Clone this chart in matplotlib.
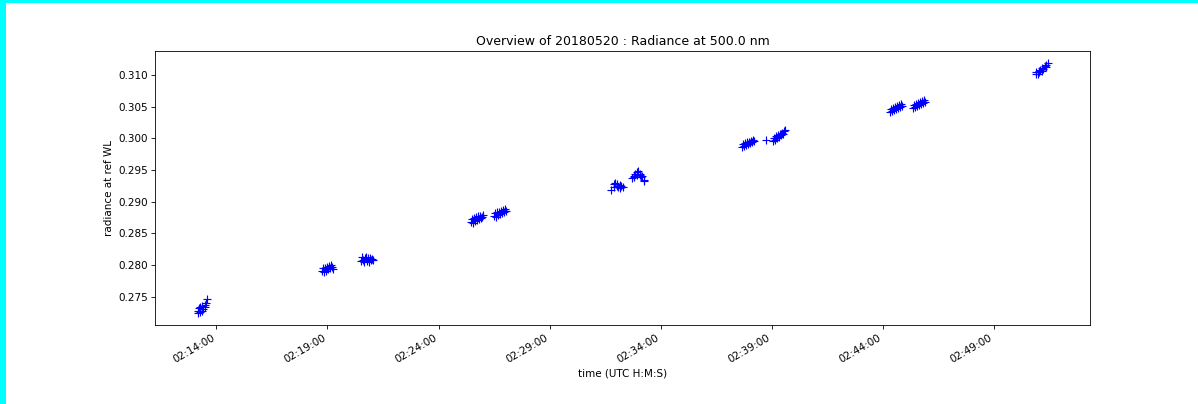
import pandas as pd
import matplotlib.pyplot as plt
import matplotlib.dates as mdates
from matplotlib.patches import Rectangle

day = '2018-05-20'

# Measurement times (UTC) and radiance at the reference wavelength, one row per pass
times = [
    '02:13:09', '02:13:11', '02:13:14', '02:13:17', '02:13:17', '02:13:20', '02:13:22', '02:13:25', '02:13:28', '02:13:30', '02:13:33', '02:13:36',
    '02:18:46', '02:18:48', '02:18:51', '02:18:54', '02:18:56', '02:18:59', '02:19:02', '02:19:04', '02:19:07', '02:19:10', '02:19:13', '02:19:15',
    '02:20:31', '02:20:34', '02:20:36', '02:20:39', '02:20:42', '02:20:44', '02:20:47', '02:20:50', '02:20:52', '02:20:55', '02:20:58', '02:21:00', '02:21:03',
    '02:25:27', '02:25:30', '02:25:33', '02:25:35', '02:25:38', '02:25:41', '02:25:43', '02:25:46', '02:25:49', '02:25:51', '02:25:54', '02:25:57', '02:26:00',
    '02:26:29', '02:26:32', '02:26:35', '02:26:37', '02:26:40', '02:26:43', '02:26:45', '02:26:48', '02:26:51', '02:26:53', '02:26:56', '02:26:59', '02:27:02',
    '02:31:47', '02:31:53', '02:31:55', '02:31:58', '02:32:01', '02:32:03', '02:32:06', '02:32:09', '02:32:11', '02:32:14', '02:32:17',
    '02:32:44', '02:32:47', '02:32:49', '02:32:52', '02:32:55', '02:32:57', '02:33:00', '02:33:03', '02:33:05', '02:33:08', '02:33:11', '02:33:14', '02:33:16',
    '02:37:40', '02:37:43', '02:37:46', '02:37:48', '02:37:51', '02:37:54', '02:37:56', '02:37:59', '02:38:02', '02:38:04', '02:38:07', '02:38:10', '02:38:13',
    '02:38:45',
    '02:39:04', '02:39:07', '02:39:09', '02:39:12', '02:39:15', '02:39:17', '02:39:20', '02:39:23', '02:39:25', '02:39:28', '02:39:31', '02:39:33', '02:39:36',
    '02:44:19', '02:44:22', '02:44:25', '02:44:27', '02:44:30', '02:44:33', '02:44:35', '02:44:38', '02:44:41', '02:44:43', '02:44:46', '02:44:49', '02:44:52',
    '02:45:21', '02:45:24', '02:45:27', '02:45:29', '02:45:32', '02:45:35', '02:45:37', '02:45:40', '02:45:43', '02:45:45', '02:45:48', '02:45:51', '02:45:53',
    '02:50:53', '02:50:55', '02:50:58', '02:51:01', '02:51:03', '02:51:06', '02:51:09', '02:51:11', '02:51:14', '02:51:17', '02:51:20', '02:51:22', '02:51:25',
]

radiance = [
    0.27280, 0.27250, 0.27320, 0.27265, 0.27330, 0.27280, 0.27350, 0.27300, 0.27370, 0.27330, 0.27400, 0.27469,
    0.27908, 0.27950, 0.27890, 0.27960, 0.27910, 0.27975, 0.27930, 0.27990, 0.27950, 0.28005, 0.27970, 0.27940,
    0.28070, 0.28120, 0.28085, 0.28050, 0.28110, 0.28125, 0.28070, 0.28105, 0.28055, 0.28115, 0.28075, 0.28100, 0.28085,
    0.28678, 0.28720, 0.28670, 0.28740, 0.28695, 0.28755, 0.28710, 0.28770, 0.28730, 0.28780, 0.28745, 0.28765, 0.28795,
    0.28772, 0.28815, 0.28765, 0.28830, 0.28790, 0.28845, 0.28805, 0.28860, 0.28820, 0.28875, 0.28840, 0.28890, 0.28860,
    0.29180, 0.29230, 0.29274, 0.29300, 0.29250, 0.29285, 0.29235, 0.29265, 0.29215, 0.29250, 0.29225,
    0.29370, 0.29410, 0.29395, 0.29440, 0.29425, 0.29470, 0.29478, 0.29420, 0.29440, 0.29385, 0.29405, 0.29345, 0.29325,
    0.29871, 0.29905, 0.29880, 0.29920, 0.29895, 0.29935, 0.29905, 0.29950, 0.29920, 0.29965, 0.29935, 0.29980, 0.29955,
    0.29975,
    0.29965, 0.30010, 0.29975, 0.30030, 0.30005, 0.30045, 0.30025, 0.30070, 0.30050, 0.30090, 0.30075, 0.30115, 0.30135,
    0.30420, 0.30460, 0.30430, 0.30475, 0.30445, 0.30490, 0.30460, 0.30505, 0.30480, 0.30520, 0.30495, 0.30535, 0.30515,
    0.30483, 0.30525, 0.30495, 0.30540, 0.30510, 0.30555, 0.30525, 0.30570, 0.30545, 0.30585, 0.30560, 0.30600, 0.30580,
    0.31010, 0.31050, 0.31020, 0.31065, 0.31040, 0.31085, 0.31070, 0.31110, 0.31095, 0.31135, 0.31120, 0.31160, 0.31182,
]

t = pd.to_datetime([day + ' ' + s for s in times])

fig, ax = plt.subplots(figsize=(1198 / 75, 404 / 75), dpi=75)
ax.plot(t, radiance, linestyle='none', marker='+', color='b', markersize=7, markeredgewidth=1.1)

ax.set_title('Overview of 20180520 : Radiance at 500.0 nm')
ax.set_xlabel('time (UTC H:M:S)')
ax.set_ylabel('radiance at ref WL')
ax.xaxis.set_major_locator(mdates.MinuteLocator(byminute=range(4, 60, 5)))
ax.xaxis.set_major_formatter(mdates.DateFormatter('%H:%M:%S'))
fig.autofmt_xdate()

fig.subplots_adjust(left=155 / 1198, right=1090 / 1198, top=1 - 51 / 404, bottom=1 - 325 / 404)

# cyan frame along the top and left edges
fig.patches.append(Rectangle((0, 0), 6 / 1198, 1, transform=fig.transFigure,
                             facecolor='#00ffff', edgecolor='none', zorder=10))
fig.patches.append(Rectangle((0, 1 - 3 / 404), 1, 3 / 404, transform=fig.transFigure,
                             facecolor='#00ffff', edgecolor='none', zorder=10))

plt.savefig('out.png', dpi=75)
plt.close()
